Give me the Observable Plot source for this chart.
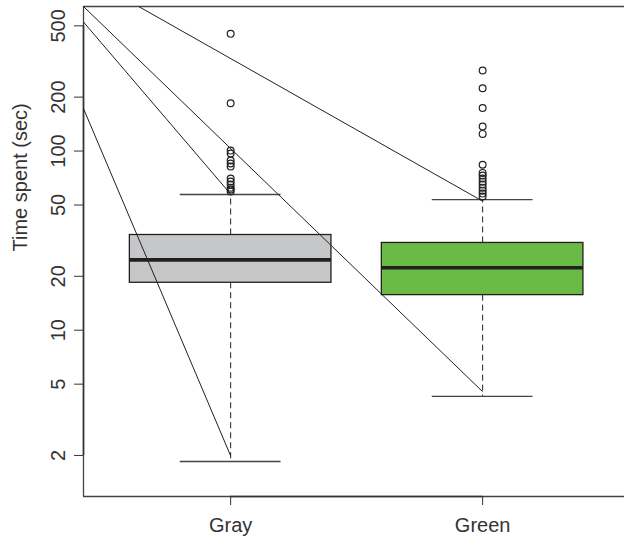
<!DOCTYPE html>
<html>
<head>
<meta charset="utf-8">
<script src="https://cdn.jsdelivr.net/npm/d3@7"></script>
<script src="https://cdn.jsdelivr.net/npm/@observablehq/plot@0.6"></script>
<style>
  html, body { margin: 0; padding: 0; background: #fff; }
  svg { display: block; }
</style>
</head>
<body>
<div id="chart"></div>
<script>
// ---- data ----
const groups = ["Gray", "Green"];
const positions = [1, 2];
const fills = ["#c6c7c9", "#6abb45"];
const q1 = [18.4, 15.7];
const median = [24.7, 22.3];
const q3 = [34.0, 30.7];
const whiskerLow = [1.85, 4.27];
const whiskerHigh = [57.2, 53.6];

const outliersGray = [451, 185, 100.6, 96.9, 88.5, 85.2, 82, 70.2, 67.6, 65, 62.5, 61, 59.5];
const outliersGreen = [281.5, 224, 174, 137, 124.7, 83.8, 75.5, 73.0, 70.2, 67.5, 65, 62.5, 60.1, 57.9, 55.7];

// pointer lines (start in data units -> end at whisker ends)
const lineStartX = [0.635, 0.416, 0.416, 0.416];
const lineStartY = [641, 641, 525, 172.6];
const lineEndX = [2, 2, 1, 1];
const lineEndY = [52.5, 4.54, 57.5, 1.99];

const yTicks = [2, 5, 10, 20, 50, 100, 200, 500];
const xDomain = [0.416, 2.563];
const yDomain = [1.18, 641];
const yLabel = "Time spent (sec)";

// ---- tables ----
const boxes = groups.map((g, i) => ({
  group: g, pos: positions[i], fill: fills[i],
  q1: q1[i], median: median[i], q3: q3[i], lo: whiskerLow[i], hi: whiskerHigh[i]
}));
const outliers = [
  ...outliersGray.map(v => ({pos: positions[0], value: v})),
  ...outliersGreen.map(v => ({pos: positions[1], value: v}))
];
const lines = lineStartX.map((x, i) => ({x1: x, y1: lineStartY[i], x2: lineEndX[i], y2: lineEndY[i]}));

const ink = "#231f20";
const halfBox = 0.4, halfCap = 0.2;

const chart = Plot.plot({
  width: 624,
  height: 537,
  marginLeft: 83,
  marginRight: 0,
  marginTop: 6,
  marginBottom: 41,
  style: {fontFamily: "'Liberation Sans', Arial, Helvetica, sans-serif", fontSize: "20px", background: "#fff", color: "#333"},
  x: {type: "linear", domain: xDomain},
  y: {type: "log", domain: yDomain},
  marks: [
    // frame (left, top, bottom)
    Plot.ruleX([xDomain[0]], {stroke: "#444", strokeWidth: 1.3}),
    Plot.ruleY(yDomain, {stroke: "#444", strokeWidth: 1.3}),
    // axis lines
    Plot.ruleX([xDomain[0]], {y1: yTicks[0], y2: yTicks[yTicks.length - 1], stroke: "#333", strokeWidth: 1.6}),
    Plot.ruleY([yDomain[0]], {x1: positions[0], x2: positions[positions.length - 1], stroke: "#333", strokeWidth: 1.6}),
    // whiskers
    Plot.ruleX(boxes, {x: "pos", y1: "q3", y2: "hi", stroke: ink, strokeWidth: 1, strokeDasharray: "6,4"}),
    Plot.ruleX(boxes, {x: "pos", y1: "q1", y2: "lo", stroke: ink, strokeWidth: 1, strokeDasharray: "6,4"}),
    Plot.ruleY(boxes, {y: "hi", x1: d => d.pos - halfCap, x2: d => d.pos + halfCap, stroke: "#444", strokeWidth: 1.3}),
    Plot.ruleY(boxes, {y: "lo", x1: d => d.pos - halfCap, x2: d => d.pos + halfCap, stroke: "#444", strokeWidth: 1.3}),
    // boxes
    Plot.rect(boxes, {x1: d => d.pos - halfBox, x2: d => d.pos + halfBox, y1: "q1", y2: "q3", fill: "fill", stroke: ink, strokeWidth: 1.3}),
    Plot.ruleY(boxes, {y: "median", x1: d => d.pos - halfBox, x2: d => d.pos + halfBox, stroke: ink, strokeWidth: 3.6}),
    // outliers
    Plot.dot(outliers, {x: "pos", y: "value", r: 3.4, stroke: ink, strokeWidth: 1.2, fill: "none"}),
    // pointer lines
    Plot.link(lines, {x1: "x1", y1: "y1", x2: "x2", y2: "y2", stroke: ink, strokeWidth: 1, clip: true}),
    // axes
    Plot.axisX({ticks: positions, tickFormat: d => groups[positions.indexOf(d)], tickSize: 9, tickPadding: 12, fontSize: 20, stroke: "#333", label: null}),
    Plot.axisY({ticks: yTicks, tickFormat: () => "", tickSize: 9, stroke: "#333", label: null}),
    Plot.text(yTicks, {y: d => d, text: d => String(d), frameAnchor: "left", rotate: -90, textAnchor: "middle", lineAnchor: "bottom", dx: -19, fontSize: 20, fill: "#333"}),
    Plot.text([yLabel], {frameAnchor: "left", rotate: -90, dx: -63, fontSize: 20, fill: "#333"})
  ]
});
document.getElementById("chart").appendChild(chart);
</script>
</body>
</html>
